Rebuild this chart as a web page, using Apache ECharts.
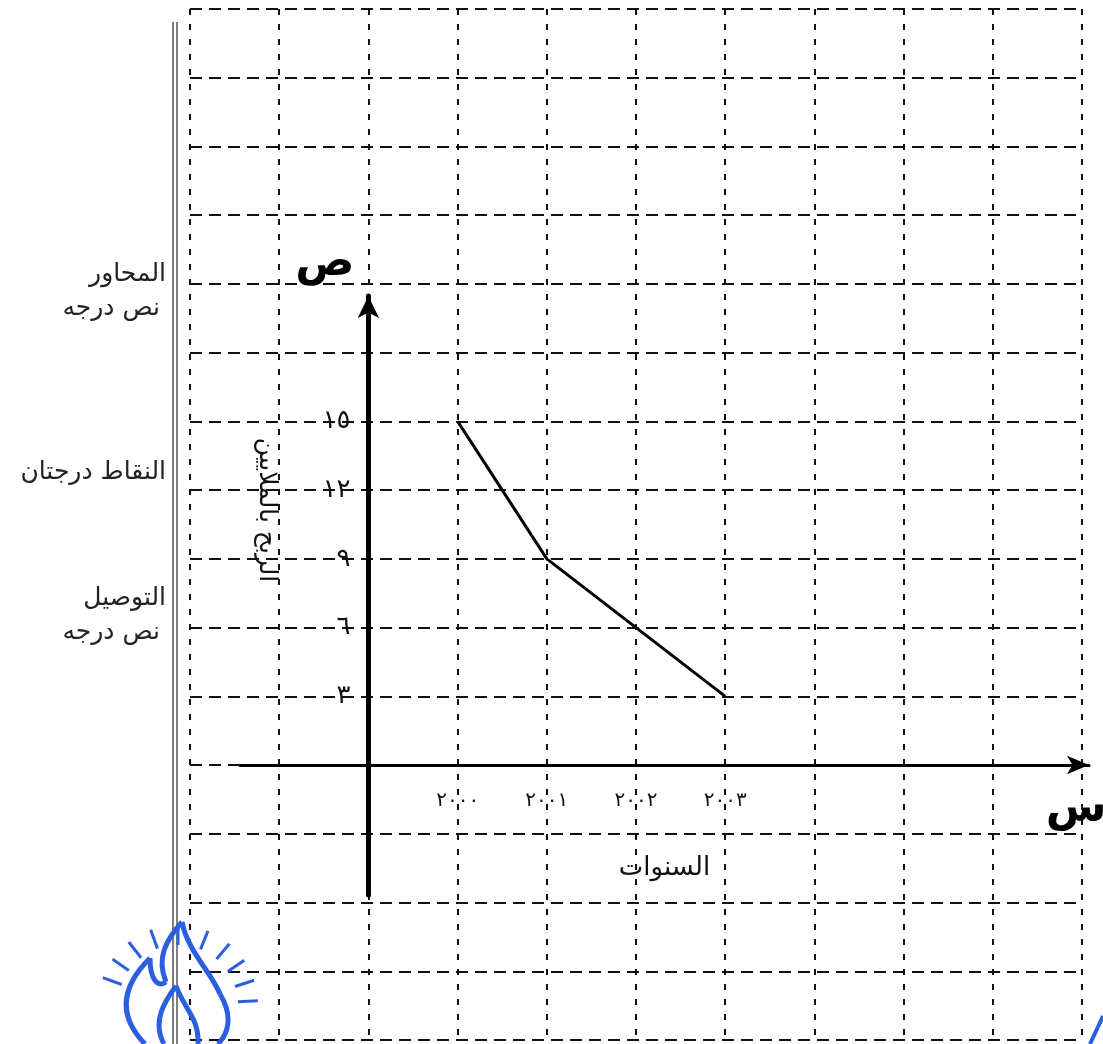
<!DOCTYPE html>
<html>
<head>
<meta charset="utf-8">
<script src="https://cdn.jsdelivr.net/npm/echarts@6/dist/echarts.min.js"></script>
<style>
  html, body { margin: 0; padding: 0; background: #fff; }
  #chart { width: 1103px; height: 1044px; }
</style>
</head>
<body>
<div id="chart"></div>
<script>
  const years = [2000, 2001, 2002, 2003];
  const profits = [15, 9, 6, 3];
  const yTicks = [3, 6, 9, 12, 15];
  const originYear = 1999; // where the vertical axis crosses
  const xTitle = 'السنوات';
  const yTitle = 'الربح بالملايين';
  const sideNotes = [
    { lines: ['المحاور', 'نص درجه'], y: 274 },
    { lines: ['النقاط درجتان'], y: 472 },
    { lines: ['التوصيل', 'نص درجه'], y: 598 }
  ];

  const arabicDigits = '٠١٢٣٤٥٦٧٨٩';
  function toArabic(n) {
    return String(Math.round(n)).replace(/\d/g, d => arabicDigits[d]);
  }

  const FONT = '"DejaVu Sans", sans-serif';
  const BLUE = '#2c5fe0';

  let chart = echarts.init(document.getElementById('chart'));

  // side notes (marking scheme)
  let graphics = [];
  sideNotes.forEach(note => {
    note.lines.forEach((t, i) => {
      graphics.push({
        type: 'text',
        x: i === 0 ? 166 : 160,
        y: note.y + i * 34,
        style: { text: t, font: '25px ' + FONT, fill: '#222', textAlign: 'right', textVerticalAlign: 'middle' }
      })
    })
  })

  // page margin double line
  graphics.push(
    { type: 'line', shape: { x1: 173, y1: 22, x2: 173, y2: 1044 }, style: { stroke: '#555', lineWidth: 1.5 } },
    { type: 'line', shape: { x1: 177, y1: 22, x2: 177, y2: 1044 }, style: { stroke: '#555', lineWidth: 1.5 } }
  )

  // vertical axis title
  graphics.push({
    type: 'text', x: 266, y: 510, rotation: -Math.PI / 2,
    style: { text: yTitle, font: '25px ' + FONT, fill: '#111', textAlign: 'center', textVerticalAlign: 'middle' }
  })
  // x symbol
  graphics.push({
    type: 'text', x: 1076, y: 810,
    style: { text: 'س', font: 'bold 44px ' + FONT, fill: '#000', textAlign: 'center', textVerticalAlign: 'middle' }
  })

  // stamp in the corner
  const cx = 178, cy = 1005;
  [200, 215, 232, 250, 270, 292, 310, 326, 342, 357].forEach(a => {
    let r = a * Math.PI / 180;
    graphics.push({
      type: 'line', z: 20,
      shape: { x1: cx + Math.cos(r) * 60, y1: cy + Math.sin(r) * 60, x2: cx + Math.cos(r) * 80, y2: cy + Math.sin(r) * 80 },
      style: { stroke: BLUE, lineWidth: 3 }
    })
  })
  const flameCurves = [
    [145, 1044, 112, 1010, 128, 980, 150, 958],
    [150, 958, 150, 980, 158, 988, 166, 982],
    [166, 982, 156, 958, 166, 940, 182, 922],
    [182, 922, 188, 952, 210, 970, 220, 994],
    [220, 994, 232, 1014, 230, 1032, 218, 1044],
    [164, 1044, 152, 1022, 164, 1002, 176, 986],
    [176, 986, 184, 1008, 200, 1020, 198, 1044]
  ];
  flameCurves.forEach(c => {
    graphics.push({
      type: 'bezierCurve', z: 20,
      shape: { x1: c[0], y1: c[1], cpx1: c[2], cpy1: c[3], cpx2: c[4], cpy2: c[5], x2: c[6], y2: c[7] },
      style: { stroke: BLUE, lineWidth: 5, fill: null }
    })
  })
  graphics.push(
    { type: 'line', z: 20, shape: { x1: 1090, y1: 1044, x2: 1103, y2: 1016 }, style: { stroke: BLUE, lineWidth: 4 } }
  )

  chart.setOption({
    animation: false,
    backgroundColor: '#fff',
    textStyle: { fontFamily: FONT },
    grid: [
      { left: 190, right: 21, top: 9, bottom: 4 },
      { left: 240, right: 14, top: 296, bottom: 149 }
    ],
    xAxis: [
      {
        gridIndex: 0, type: 'value', min: -2, max: 8, interval: 1,
        axisLine: { show: false }, axisTick: { show: false }, axisLabel: { show: false },
        splitLine: { show: true, lineStyle: { color: '#111', width: 2, type: [6, 9] } }
      },
      {
        gridIndex: 1, type: 'value', min: -1.44, max: 8.078,
        position: 'bottom', offset: -130,
        axisLine: {
          onZero: false, symbol: ['none', 'arrow'], symbolSize: [14, 22],
          lineStyle: { color: '#000', width: 3 }
        },
        axisTick: { show: false },
        splitLine: { show: false },
        axisLabel: {
          customValues: years.map(y => y - originYear),
          formatter: v => toArabic(v + originYear),
          margin: 26, fontSize: 20, color: '#111'
        },
        name: xTitle, nameLocation: 'middle', nameGap: 90,
        nameTextStyle: { fontSize: 26, color: '#111' }
      }
    ],
    yAxis: [
      {
        gridIndex: 0, type: 'value', min: -12, max: 33, interval: 3,
        axisLine: { show: false }, axisTick: { show: false }, axisLabel: { show: false },
        splitLine: { show: true, lineStyle: { color: '#111', width: 2, type: [12, 7] } }
      },
      {
        gridIndex: 1, type: 'value', min: -5.67, max: 20.47,
        position: 'left', offset: -128.4,
        axisLine: {
          onZero: false, symbol: ['none', 'arrow'], symbolSize: [16, 22],
          lineStyle: { color: '#000', width: 5 }
        },
        axisTick: { show: false },
        splitLine: { show: false },
        axisLabel: {
          customValues: yTicks,
          formatter: v => toArabic(v),
          margin: 18, fontSize: 26, color: '#111'
        },
        name: 'ص', nameLocation: 'end', nameGap: 10,
        nameTextStyle: { fontSize: 44, fontWeight: 'bold', color: '#000', align: 'right', verticalAlign: 'bottom', padding: [0, 14, 0, 0] }
      }
    ],
    series: [{
      type: 'line',
      xAxisIndex: 1,
      yAxisIndex: 1,
      data: years.map((y, i) => [y - originYear, profits[i]]),
      symbol: 'none',
      lineStyle: { color: '#000', width: 3 },
      silent: true
    }],
    graphic: graphics
  })
</script>
</body>
</html>
